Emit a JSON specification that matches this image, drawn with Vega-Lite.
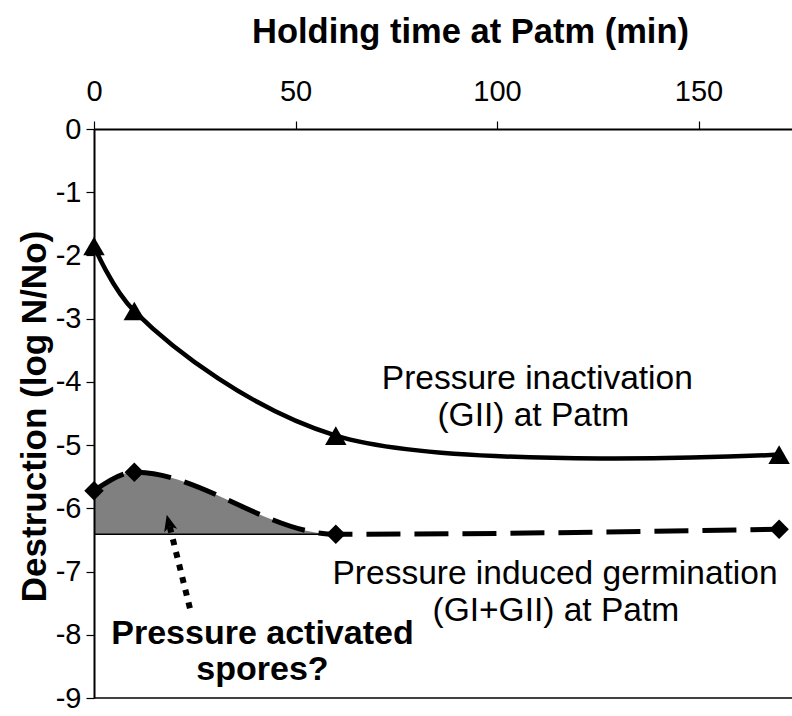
{
  "$schema": "https://vega.github.io/schema/vega-lite/v6.json",
  "autosize": {"type": "none"},
  "padding": {"left": 94, "top": 129, "right": 0, "bottom": 18},
  "width": 698,
  "height": 569,
  "background": "white",
  "config": {"view": {"stroke": null}, "font": "Liberation Sans"},
  "datasets": {
    "inact": [
      {"t": 0, "v": -1.85},
      {"t": 10, "v": -2.88},
      {"t": 60, "v": -4.85},
      {"t": 170, "v": -5.15}
    ],
    "germ": [
      {"t": 0, "v": -5.72, "floor": -6.41},
      {"t": 10, "v": -5.43, "floor": -6.41},
      {"t": 60, "v": -6.41, "floor": -6.41},
      {"t": 170, "v": -6.33, "floor": -6.33}
    ],
    "base": [{"t": 0, "t2": 60, "v": -6.41}],
    "frame": [{"t": 0, "t2": 173.2, "v": -9}],
    "arrow": [{"t": 23.8, "v": -7.58}, {"t": 18.8, "v": -6.29}],
    "arrowhead": [{"t": 18.6, "v": -6.24}],
    "notes": [
      {"t": 110.0, "v": -4.12, "label": "Pressure inactivation", "kind": "normal"},
      {"t": 109.0, "v": -4.7, "label": "(GII) at Patm", "kind": "normal"},
      {"t": 114.4, "v": -7.2, "label": "Pressure induced germination", "kind": "normal"},
      {"t": 114.6, "v": -7.78, "label": "(GI+GII) at Patm", "kind": "normal"},
      {"t": 41.8, "v": -8.14, "label": "Pressure activated", "kind": "bold"},
      {"t": 41.8, "v": -8.72, "label": "spores?", "kind": "bold"}
    ]
  },
  "encoding": {
    "x": {
      "field": "t", "type": "quantitative",
      "scale": {"domain": [0, 173.2], "nice": false, "zero": false},
      "axis": {
        "orient": "top", "title": "Holding time at Patm (min)", "values": [0, 50, 100, 150],
        "grid": false, "domainColor": "black", "domainWidth": 2, "zindex": 2,
        "tickColor": "black", "tickWidth": 1.2, "tickSize": 8,
        "labelFont": "Liberation Sans", "labelFontSize": 29, "labelColor": "black",
        "labelBaseline": "alphabetic", "labelPadding": 21, "labelFlush": false, "labelOverlap": false,
        "titleFont": "Liberation Sans", "titleFontSize": 34.5, "titleFontWeight": "bold", "titleColor": "black",
        "titleBaseline": "alphabetic", "titleAlign": "center", "titleX": 376, "titleY": -87
      }
    },
    "y": {
      "field": "v", "type": "quantitative",
      "scale": {"domain": [-9, 0], "nice": false, "zero": false},
      "axis": {
        "title": "Destruction (log N/No)", "values": [0, -1, -2, -3, -4, -5, -6, -7, -8, -9],
        "labelExpr": "'' + datum.value",
        "grid": false, "domainColor": "black", "domainWidth": 2, "zindex": 2,
        "tickColor": "black", "tickWidth": 1.2, "tickSize": 8,
        "labelFont": "Liberation Sans", "labelFontSize": 29, "labelColor": "black",
        "labelPadding": 5, "labelFlush": false, "labelOverlap": false,
        "titleFont": "Liberation Sans", "titleFontSize": 35, "titleFontWeight": "bold", "titleColor": "black",
        "titleBaseline": "alphabetic", "titleAlign": "center", "titleAngle": 270, "titleX": -49, "titleY": 287
      }
    }
  },
  "layer": [
    {
      "data": {"name": "germ"},
      "mark": {"type": "area", "interpolate": "monotone", "color": "#808080", "opacity": 1},
      "encoding": {"y2": {"field": "floor"}}
    },
    {
      "data": {"name": "frame"},
      "mark": {"type": "rule", "color": "black", "strokeWidth": 1.5},
      "encoding": {"x2": {"field": "t2"}}
    },
    {
      "data": {"name": "base"},
      "mark": {"type": "rule", "color": "black", "strokeWidth": 1.5},
      "encoding": {"x2": {"field": "t2"}}
    },
    {
      "data": {"name": "inact"},
      "mark": {"type": "line", "interpolate": "catmull-rom", "color": "black", "strokeWidth": 4.5},
      "encoding": {}
    },
    {
      "data": {"name": "germ"},
      "mark": {"type": "line", "interpolate": "monotone", "color": "black", "strokeWidth": 5, "strokeDash": [34, 14], "strokeCap": "butt"},
      "encoding": {}
    },
    {
      "data": {"name": "inact"},
      "mark": {"type": "point", "shape": "triangle-up", "filled": true, "color": "black", "opacity": 1, "size": 460}
    },
    {
      "data": {"name": "germ"},
      "mark": {"type": "point", "shape": "diamond", "filled": true, "color": "black", "opacity": 1, "size": 380}
    },
    {
      "data": {"name": "arrow"},
      "mark": {"type": "line", "color": "black", "strokeWidth": 6, "strokeDash": [6, 7], "strokeCap": "butt"},
      "encoding": {}
    },
    {
      "data": {"name": "arrowhead"},
      "mark": {"type": "point", "shape": "M0,-1L0.75,0.8L0,0.35L-0.75,0.8Z", "filled": true, "color": "black", "opacity": 1, "size": 324, "angle": -14}
    },
    {
      "data": {"name": "notes"},
      "transform": [{"filter": "datum.kind == 'normal'"}],
      "mark": {"type": "text", "font": "Liberation Sans", "fontSize": 33.5, "color": "black", "align": "center", "baseline": "alphabetic"},
      "encoding": {"text": {"field": "label"}}
    },
    {
      "data": {"name": "notes"},
      "transform": [{"filter": "datum.kind == 'bold'"}],
      "mark": {"type": "text", "font": "Liberation Sans", "fontSize": 34, "fontWeight": "bold", "color": "black", "align": "center", "baseline": "alphabetic"},
      "encoding": {"text": {"field": "label"}}
    }
  ]
}
